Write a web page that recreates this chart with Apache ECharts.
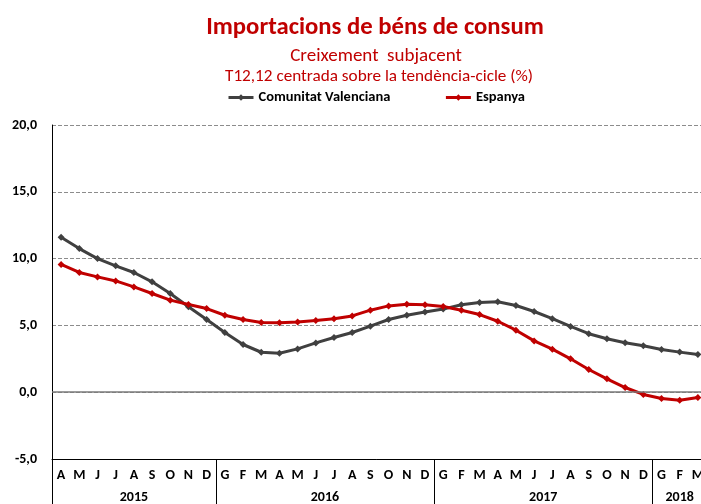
<!DOCTYPE html>
<html>
<head>
<meta charset="utf-8">
<script src="https://cdn.jsdelivr.net/npm/echarts@6/dist/echarts.min.js"></script>
<style>
  html, body { margin: 0; padding: 0; background: #fff; }
  #chart { width: 701px; height: 504px; }
</style>
</head>
<body>
<div id="chart"></div>
<script>
// mesos (abr 2015 - mar 2018)
const months = ['A','M','J','J','A','S','O','N','D',
  'G','F','M','A','M','J','J','A','S','O','N','D',
  'G','F','M','A','M','J','J','A','S','O','N','D',
  'G','F','M'];
// etiquetes d'any i posicio central (en mesos des de l'inici)
const years = ['2015', '2016', '2017', '2018'];
const yearCenters = [4.5, 15, 27, 34.5];
const yearBreaks = [0, 9, 21, 33];

const comunitatValenciana = [11.6, 10.75, 10.0, 9.46, 8.96, 8.26, 7.39, 6.4, 5.44,
  4.47, 3.57, 2.99, 2.92, 3.24, 3.69, 4.09, 4.47, 4.94, 5.44, 5.76, 6.0,
  6.22, 6.54, 6.72, 6.77, 6.49, 6.04, 5.5, 4.92, 4.38, 4.0, 3.7, 3.48,
  3.2, 3.0, 2.83];
const espanya = [9.56, 8.96, 8.63, 8.33, 7.88, 7.39, 6.89, 6.56, 6.26,
  5.76, 5.44, 5.22, 5.19, 5.26, 5.37, 5.49, 5.71, 6.14, 6.46, 6.59, 6.55,
  6.42, 6.14, 5.81, 5.31, 4.64, 3.84, 3.22, 2.50, 1.70, 1.00, 0.35, -0.17,
  -0.47, -0.60, -0.40];

const font = "Carlito, 'Liberation Sans Narrow', 'Open Sans', sans-serif";
const red = '#C00000';
const gray = '#404040';

const chart = echarts.init(document.getElementById('chart'));
chart.setOption({
  animation: false,
  textStyle: { fontFamily: font },
  title: [
    {
      text: 'Importacions de béns de consum',
      left: 370, top: 10, textAlign: 'center',
      textStyle: { color: red, fontSize: 24.7, fontWeight: 'bold', fontFamily: font }
    },
    {
      text: 'Creixement  subjacent',
      left: 371, top: 42, textAlign: 'center',
      textStyle: { color: red, fontSize: 19, fontWeight: 'normal', fontFamily: font }
    },
    {
      text: 'T12,12 centrada sobre la tendència-cicle (%)',
      left: 374, top: 63, textAlign: 'center',
      textStyle: { color: red, fontSize: 17.2, fontWeight: 'normal', fontFamily: font }
    }
  ],
  legend: {
    left: 222, top: 85,
    itemWidth: 25, itemHeight: 8, itemGap: 54,
    lineStyle: { width: 3 },
    textStyle: { color: '#000', fontSize: 14.5, fontWeight: 'bold', fontFamily: font },
    data: ['Comunitat Valenciana', 'Espanya']
  },
  grid: { left: 52, top: 125, width: 655, height: 334, outerBoundsMode: 'none' },
  xAxis: [
    {
      type: 'category',
      data: months,
      boundaryGap: true,
      axisLine: { onZero: false, lineStyle: { color: '#000', width: 1 } },
      axisTick: {
        show: true, length: 45,
        interval: (i) => yearBreaks.includes(i),
        lineStyle: { color: '#000', width: 1 }
      },
      axisLabel: {
        interval: 0, margin: 9,
        color: '#000', fontSize: 14, fontWeight: 'bold', fontFamily: font
      }
    },
    {
      type: 'value',
      position: 'bottom',
      min: 0, max: 36, interval: 0.5,
      axisLine: { show: false, onZero: false },
      axisTick: { show: false },
      splitLine: { show: false },
      axisLabel: {
        margin: 31, color: '#000', fontSize: 14, fontWeight: 'bold', fontFamily: font,
        showMinLabel: false, showMaxLabel: false,
        formatter: (v) => {
          const k = yearCenters.indexOf(v);
          return k >= 0 ? years[k] : '';
        }
      }
    }
  ],
  yAxis: {
    type: 'value',
    min: -5, max: 20, interval: 5,
    axisLine: { show: true, lineStyle: { color: '#000', width: 1 } },
    axisTick: { show: false },
    splitLine: { show: true, lineStyle: { color: '#8c8c8c', type: 'dashed', width: 1 } },
    axisLabel: {
      margin: 15, color: '#000', fontSize: 14, fontWeight: 'bold', fontFamily: font,
      formatter: (v) => v.toFixed(1).replace('.', ',')
    }
  },
  series: [
    {
      name: 'Comunitat Valenciana',
      type: 'line',
      data: comunitatValenciana,
      symbol: 'diamond', symbolSize: 7,
      color: gray,
      lineStyle: { width: 3, color: gray },
      itemStyle: { color: gray },
      markLine: {
        silent: true, symbol: 'none',
        label: { show: false },
        lineStyle: { color: '#7a7a7a', type: 'solid', width: 1.5 },
        data: [{ yAxis: 0 }]
      }
    },
    {
      name: 'Espanya',
      type: 'line',
      data: espanya,
      symbol: 'diamond', symbolSize: 7,
      color: red,
      lineStyle: { width: 3, color: red },
      itemStyle: { color: red }
    }
  ]
});
</script>
</body>
</html>
